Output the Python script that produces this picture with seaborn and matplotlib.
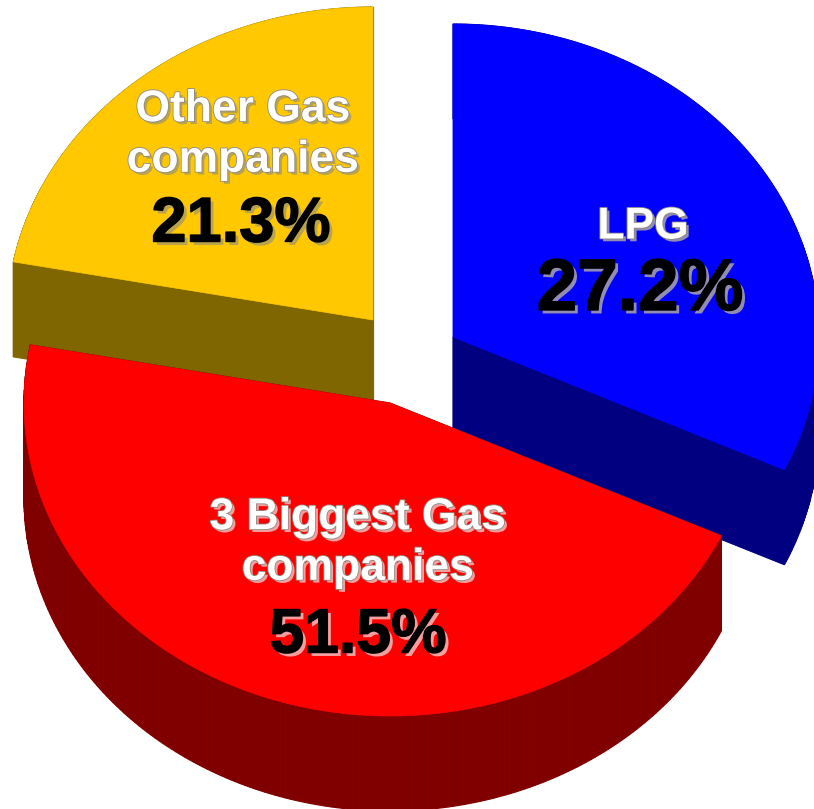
"""
Exploded 3D looking pie of gas supply shares, drawn with a tilted ax.pie
"""
import matplotlib
matplotlib.use("Agg")
import matplotlib.patheffects as pe
import matplotlib.pyplot as plt
import numpy as np
import seaborn as sns
from matplotlib.patches import Polygon

slices = ["LPG", "3 Biggest Gas\ncompanies", "Other Gas\ncompanies"]
shares = [27.2, 51.5, 21.3]
top_colors = ["#0000ff", "#ff0000", "#ffc800"]
side_colors = ["#000080", "#800000", "#806600"]

# pixel shift of each exploded slice, from the pie centre
explode_px = [(0, 0), (-63, 66), (-80, -17)]
depth_px = 95
pie_centre = (453, 337)
semi_x, semi_y = 366, 313
# how many degrees each slice appears to span once the pie is tilted
seen_sweep = [115.1, 165.6, 79.3]

label_xy = [(643, 227), (358, 543), (243, 135)]
pct_xy = [(640, 291), (358, 636), (241, 225)]
pct_sizes = [52.5, 45, 45.5]
glow_colors = ["#b8b0a0", "#f0c8c8", "#a89a60"]

sns.set_theme(style="white")
plt.rcParams["font.family"] = ["Liberation Sans", "DejaVu Sans"]

fig, ax = plt.subplots(figsize=(8.14, 8.09), dpi=100)
fig.subplots_adjust(0, 0, 1, 1)

wedges, _ = ax.pie(shares, startangle=90, counterclock=False, radius=1, center=(0, 0))
ax.set_aspect("auto")
ax.set_xlim(0, 814)
ax.set_ylim(809, 0)
ax.axis("off")

# slice edges in the pie and where the tilt moves them to
true_edges = 90 - np.cumsum([0] + shares) * 3.6
seen_edges = 90 - np.cumsum([0] + seen_sweep)

outlines = []
for wedge in wedges:
    theta = np.linspace(wedge.theta1, wedge.theta2, 200)
    # theta comes from the pie, np.interp wants rising x
    seen = np.deg2rad(np.interp(theta - 360, true_edges[::-1], seen_edges[::-1])
                      if theta.max() > 90 else np.interp(theta, true_edges[::-1], seen_edges[::-1]))
    arc = np.c_[pie_centre[0] + semi_x * np.cos(seen), pie_centre[1] - semi_y * np.sin(seen)]
    outlines.append(np.vstack([pie_centre, arc, pie_centre]))
    wedge.remove()

# yellow first, then blue, red sits in front of both
for i in [2, 0, 1]:
    top = outlines[i] + np.array(explode_px[i])
    for a, b in zip(top[:-1], top[1:]):
        quad = [a, b, b + (0, depth_px), a + (0, depth_px)]
        ax.add_patch(Polygon(quad, closed=True, fc=side_colors[i], ec=side_colors[i], lw=0.8))
    ax.add_patch(Polygon(top, closed=True, fc=top_colors[i], ec=top_colors[i], lw=0.5))

for i, name in enumerate(slices):
    ax.text(*label_xy[i], name, color="white", fontsize=32, fontweight="bold", ha="center", va="center",
            linespacing=1.3,
            path_effects=[pe.SimplePatchShadow(offset=(2, -2), shadow_rgbFace=glow_colors[i], alpha=0.8),
                          pe.Stroke(linewidth=1.2, foreground="#8f8a80"),
                          pe.Normal()])
    ax.text(*pct_xy[i], f"{shares[i]}%", color="black", fontsize=pct_sizes[i], fontweight="bold",
            ha="center", va="center",
            path_effects=[pe.SimplePatchShadow(offset=(2.5, -2.5), shadow_rgbFace=glow_colors[i], alpha=0.8),
                          pe.Stroke(linewidth=1, foreground="black"),
                          pe.Normal()])

plt.savefig("out.png", dpi=100, facecolor="white")
